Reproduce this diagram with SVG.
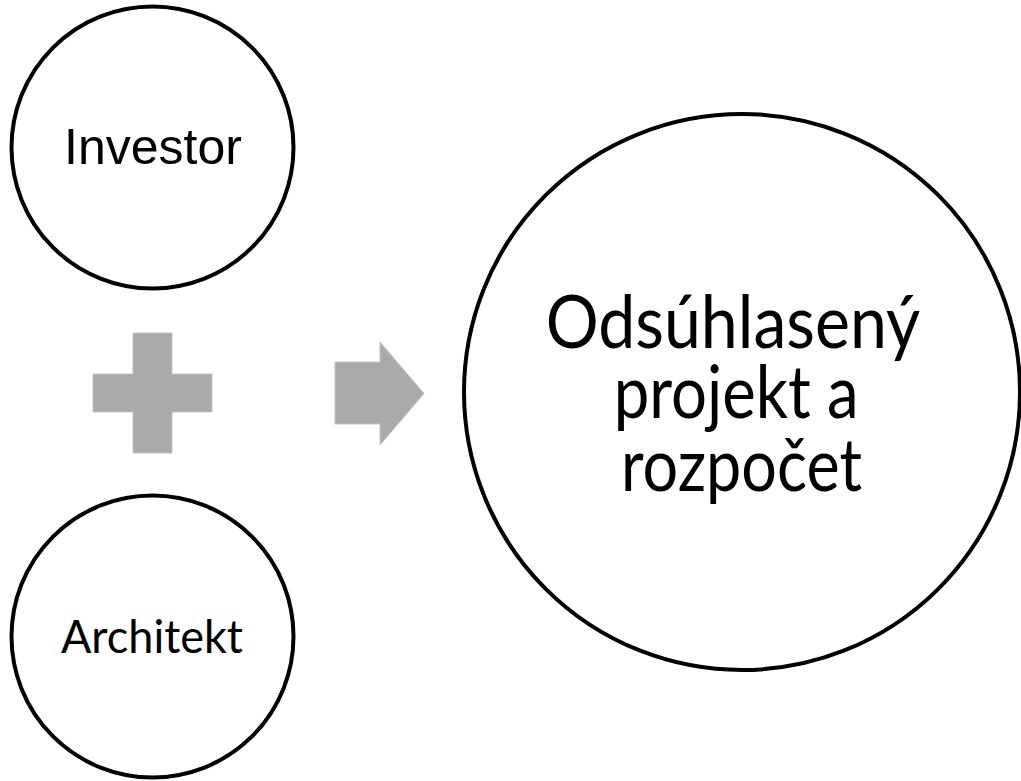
<svg xmlns="http://www.w3.org/2000/svg" width="1021" height="781" viewBox="0 0 1021 781">
  <style>
    .node { fill: #ffffff; stroke: #000000; stroke-width: 4; }
    .shape { fill: #aaaaaa; stroke: #c4c4c4; stroke-width: 1; }
    .arial { font-family: "Liberation Sans", Arial, sans-serif; fill: #000000; }
    .calibri { font-family: Lato, "Open Sans", sans-serif; fill: #000000; }
  </style>
  <rect x="0" y="0" width="1021" height="781" fill="#ffffff"/>
  <g id="investor">
    <circle class="node" cx="152.5" cy="147.5" r="141"/>
    <text class="arial" x="153" y="164" font-size="50" text-anchor="middle">Investor</text>
  </g>
  <g id="plus">
    <polygon class="shape" points="133,333 172,333 172,374 212,374 212,412 172,412 172,453 133,453 133,412 93,412 93,374 133,374"/>
  </g>
  <g id="architekt">
    <circle class="node" cx="152.5" cy="636.5" r="141"/>
    <text class="calibri" x="152" y="653" font-size="46" text-anchor="middle" textLength="182" lengthAdjust="spacingAndGlyphs">Architekt</text>
  </g>
  <g id="connectors">
    <polygon class="shape" points="335,362 380,362 380,342 424,393.5 380,445 380,424 335,424"/>
  </g>
  <g id="result">
    <circle class="node" cx="742" cy="392" r="278"/>
    <text class="calibri" font-size="73" text-anchor="middle">
      <tspan x="741.5" y="348" textLength="373" lengthAdjust="spacingAndGlyphs">Odsúhlasený</tspan>
      <tspan x="745.5" y="418" textLength="245" lengthAdjust="spacingAndGlyphs">projekt a</tspan>
      <tspan x="741.5" y="491" textLength="241" lengthAdjust="spacingAndGlyphs">rozpočet</tspan>
    </text>
  </g>
</svg>
